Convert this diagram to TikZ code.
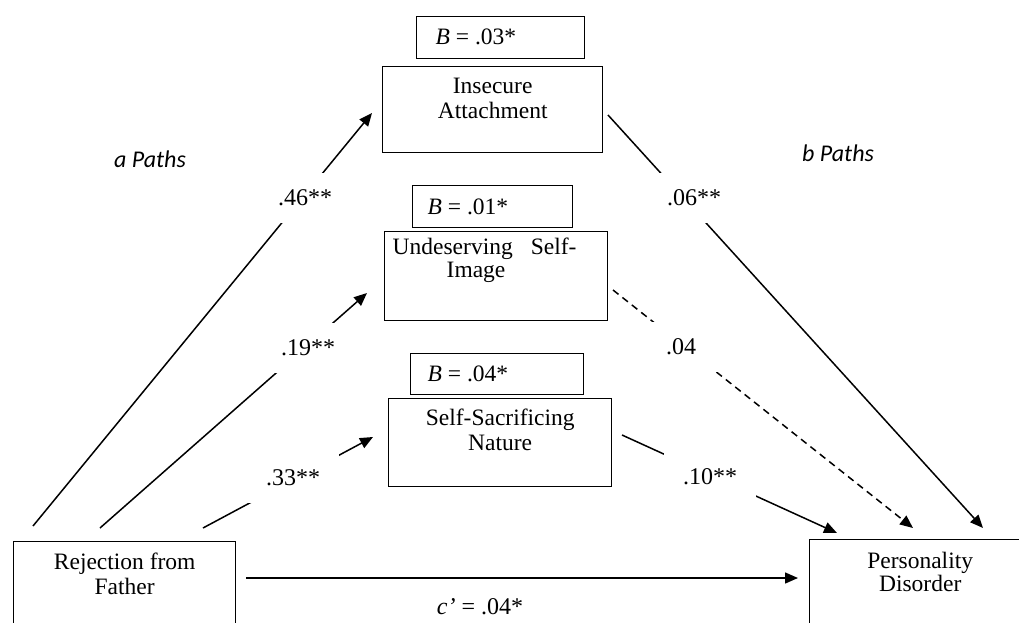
\documentclass[tikz,border=0pt]{standalone}
\usepackage{fontspec}
\setmainfont{Liberation Serif}
\newfontfamily\pathfont{Carlito}
\usetikzlibrary{arrows.meta}

\begin{document}
\begin{tikzpicture}[x=1pt,y=-1pt,
  every node/.style={font=\fontsize{23.5}{25}\selectfont},
  varbox/.style={draw, line width=1.4pt, inner sep=0pt, anchor=north west},
  coefbox/.style={draw, line width=1.4pt, inner sep=0pt, anchor=north west},
  arrowline/.style={line width=1.5pt, -{Triangle[length=13pt,width=11pt]}},
  nsline/.style={arrowline, dash pattern=on 7pt off 5pt},
  coef/.style={fill=white, inner sep=0pt, minimum width=92pt, minimum height=50pt,
               font=\fontsize{24}{26}\selectfont},
  heading/.style={font=\pathfont\itshape\fontsize{24}{26}\selectfont, anchor=base}
]
\useasboundingbox (0,0) rectangle (1019,623);
\clip (0,0) rectangle (1019,623);

% ---- variables ----
\node[varbox, text height=26.5pt, text depth=59.5pt] (ia) at (382,66)
  {\parbox[t]{220pt}{\centering Insecure\\Attachment}};
\node[varbox, text height=23pt, text depth=66pt] (us) at (384,231)
  {\parbox[t]{223pt}{\fontsize{23.5}{23}\selectfont\raggedright
   \hspace*{8pt}Undeserving\hspace{18pt}Self-\\\hspace*{62pt}Image}};
\node[varbox, text height=27pt, text depth=61pt] (ss) at (388,398)
  {\parbox[t]{223pt}{\centering Self-Sacrificing\\Nature}};
\node[varbox, text height=27.3pt, text depth=72.7pt] (rej) at (13,541)
  {\parbox[t]{222pt}{\centering Rejection from\\Father}};
\node[varbox, text height=29pt, text depth=71pt] (pd) at (809,539)
  {\parbox[t]{221pt}{\fontsize{23.5}{22.5}\selectfont\centering Personality\\Disorder}};

% ---- indirect effects ----
\node[coefbox, text height=28.3pt, text depth=13.7pt] (iaB) at (416,16)
  {\makebox[168pt][l]{\hspace*{19pt}{\itshape B} = .03*}};
\node[coefbox, text height=28.3pt, text depth=13.7pt] (usB) at (412,185)
  {\makebox[160pt][l]{\hspace*{15pt}{\itshape B} = .01*}};
\node[coefbox, text height=27.7pt, text depth=13.3pt] (ssB) at (410,353)
  {\makebox[173pt][l]{\hspace*{17pt}{\itshape B} = .04*}};

% ---- path end points ----
\coordinate (a1s) at (33,526);   \coordinate (a1e) at (372,113);
\coordinate (a2s) at (100,528);  \coordinate (a2e) at (367,293);
\coordinate (a3s) at (203,528);  \coordinate (a3e) at (373,437);
\coordinate (b1s) at (608,115);  \coordinate (b1e) at (983,528);
\coordinate (b2s) at (613,290);  \coordinate (b2e) at (913,528);
\coordinate (b3s) at (622,435);  \coordinate (b3e) at (837,533);
\coordinate (cs)  at (246,578);  \coordinate (ce)  at (798,578);

% ---- paths ----
\draw[arrowline] (a1s) -- (a1e);
\draw[arrowline] (a2s) -- (a2e);
\draw[arrowline] (a3s) -- (a3e);
\draw[arrowline] (b1s) -- (b1e);
\draw[nsline]    (b2s) -- (b2e);
\draw[arrowline] (b3s) -- (b3e);
\draw[arrowline] (cs) -- (ce);

% ---- coefficients ----
\node[coef] (l46) at (305,198) {.46**};
\node[coef] (l19) at (308,348) {.19**};
\node[coef] (l33) at (293,478) {.33**};
\node[coef] (l06) at (694,198) {.06**};
\node[coef] (l04) at (681,347) {.04};
\node[coef] (l10) at (710,477) {.10**};
\node[font=\fontsize{24}{26}\selectfont] (lc) at (480,607) {{\itshape c'} = .04*};

% ---- headings ----
\node[heading] (apaths) at (150,167.7) {a Paths};
\node[heading] (bpaths) at (838,161) {b Paths};
\end{tikzpicture}
\end{document}
